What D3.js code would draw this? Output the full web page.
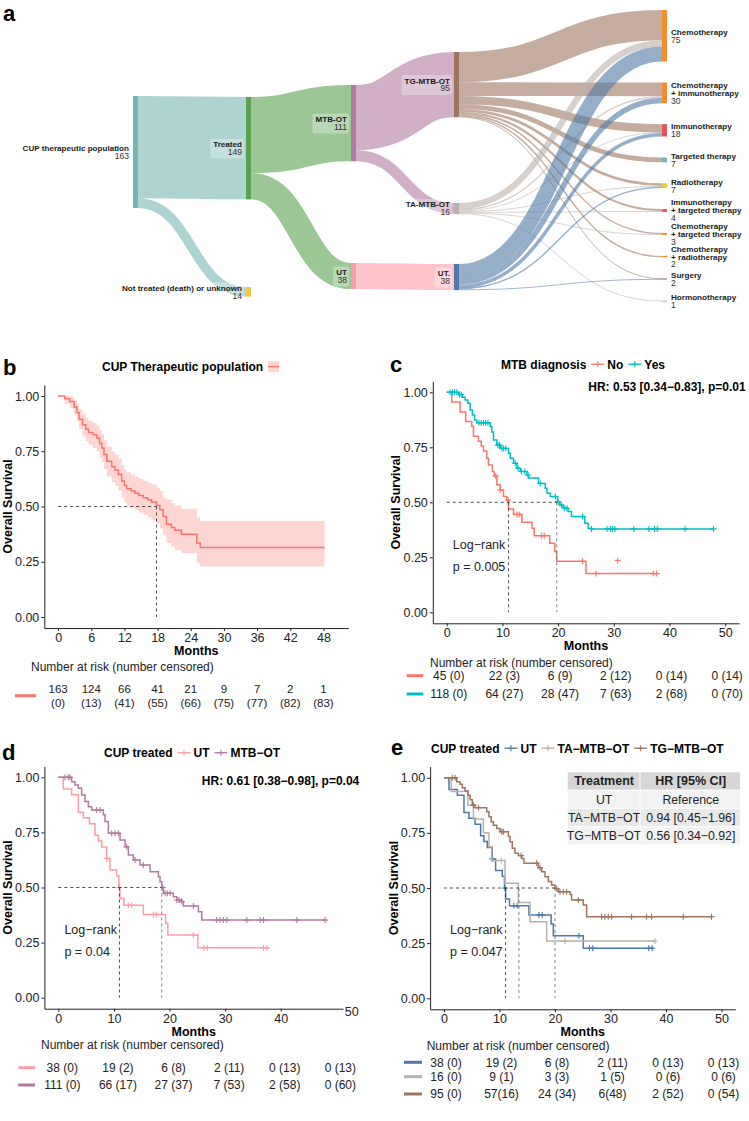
<!DOCTYPE html>
<html>
<head>
<meta charset="utf-8">
<script src="https://cdn.jsdelivr.net/npm/d3@7"></script>
<style>
body { margin: 0; background: #fff; }
svg { display: block; font-family: "Liberation Sans", Arial, Helvetica, sans-serif; }
</style>
</head>
<body>
<svg id="fig" width="749" height="1121"></svg>
<script>
// ---------------- panel a : sankey data ----------------
var sankeyLevels = [
    ["CUP therapeutic population"],
    ["Treated", "Not treated (death) or unknown"],
    ["MTB-OT", "UT"],
    ["TG-MTB-OT", "TA-MTB-OT", "UT."],
    ["Chemotherapy", "Chemotherapy\n+ immunotherapy", "Immunotherapy", "Targeted therapy", "Radiotherapy",
     "Immunotherapy\n+ targeted therapy", "Chemotherapy\n+ targeted therapy", "Chemotherapy\n+ radiotherapy",
     "Surgery", "Hormonotherapy"]
];
var sankeyLinks = [
    ["CUP therapeutic population", "Treated", 149],
    ["CUP therapeutic population", "Not treated (death) or unknown", 14],
    ["Treated", "MTB-OT", 111],
    ["Treated", "UT", 38],
    ["MTB-OT", "TG-MTB-OT", 95],
    ["MTB-OT", "TA-MTB-OT", 16],
    ["UT", "UT.", 38],
    ["TG-MTB-OT", "Chemotherapy", 44],
    ["TG-MTB-OT", "Chemotherapy\n+ immunotherapy", 20],
    ["TG-MTB-OT", "Immunotherapy", 12],
    ["TG-MTB-OT", "Targeted therapy", 7],
    ["TG-MTB-OT", "Radiotherapy", 4],
    ["TG-MTB-OT", "Immunotherapy\n+ targeted therapy", 3],
    ["TG-MTB-OT", "Chemotherapy\n+ targeted therapy", 2],
    ["TG-MTB-OT", "Chemotherapy\n+ radiotherapy", 2],
    ["TG-MTB-OT", "Surgery", 1],
    ["TA-MTB-OT", "Chemotherapy", 9],
    ["TA-MTB-OT", "Chemotherapy\n+ immunotherapy", 2],
    ["TA-MTB-OT", "Immunotherapy", 1],
    ["TA-MTB-OT", "Radiotherapy", 1],
    ["TA-MTB-OT", "Immunotherapy\n+ targeted therapy", 1],
    ["TA-MTB-OT", "Chemotherapy\n+ targeted therapy", 1],
    ["TA-MTB-OT", "Hormonotherapy", 1],
    ["UT.", "Chemotherapy", 22],
    ["UT.", "Chemotherapy\n+ immunotherapy", 8],
    ["UT.", "Immunotherapy", 5],
    ["UT.", "Radiotherapy", 2],
    ["UT.", "Surgery", 1]
];

// ---------------- panel b : whole population ----------------
var bTimes = [0, 1.2, 2.1, 2.9, 3.4, 3.8, 4.4, 5.0, 5.5, 6.3, 7.0, 7.5, 7.9, 8.3, 8.8, 9.7, 10.3, 10.9, 11.5, 12.0,
              12.4, 13.2, 13.9, 14.6, 15.4, 16.2, 16.9, 17.8, 18.4, 19.0, 19.6, 20.5, 21.1, 22.3, 25.1, 25.7];
var bSurv  = [1, 0.988, 0.975, 0.950, 0.925, 0.895, 0.870, 0.850, 0.835, 0.825, 0.810, 0.785, 0.765, 0.735, 0.705,
              0.680, 0.665, 0.645, 0.615, 0.595, 0.580, 0.570, 0.560, 0.550, 0.540, 0.530, 0.520, 0.505, 0.485,
              0.455, 0.420, 0.405, 0.392, 0.375, 0.335, 0.315];
var bUpper = [1, 1, 0.998, 0.980, 0.962, 0.940, 0.918, 0.900, 0.888, 0.878, 0.866, 0.845, 0.828, 0.800, 0.772,
              0.750, 0.735, 0.717, 0.688, 0.670, 0.655, 0.645, 0.636, 0.626, 0.617, 0.608, 0.600, 0.585, 0.570,
              0.540, 0.530, 0.515, 0.505, 0.490, 0.450, 0.434];
var bLower = [1, 0.965, 0.945, 0.915, 0.885, 0.850, 0.820, 0.795, 0.780, 0.765, 0.750, 0.720, 0.700, 0.668, 0.636,
              0.610, 0.593, 0.572, 0.541, 0.520, 0.505, 0.494, 0.483, 0.472, 0.461, 0.450, 0.439, 0.423, 0.400,
              0.370, 0.335, 0.318, 0.303, 0.288, 0.243, 0.228];
var bEnd = 48.2;
var bMedians = [17.8];
var bRiskTimes = [0, 6, 12, 18, 24, 30, 36, 42, 48];
var bAtRisk = [163, 124, 66, 41, 21, 9, 7, 2, 1];
var bCensored = [0, 13, 41, 55, 66, 75, 77, 82, 83];

// ---------------- panel c : MTB diagnosis ----------------
var cNoTimes = [0, 0.9, 2.4, 3.4, 4.5, 4.8, 5.7, 6.2, 6.6, 7.2, 7.5, 8.2, 8.5, 9.0, 9.6, 10.2, 10.8, 11.1, 12.0,
                13.5, 15.3, 15.7, 18.5, 19.4, 19.75, 25.0];
var cNoSurv  = [1, 0.956, 0.911, 0.867, 0.845, 0.800, 0.778, 0.756, 0.733, 0.700, 0.670, 0.640, 0.620, 0.580,
                0.556, 0.526, 0.510, 0.470, 0.445, 0.409, 0.382, 0.348, 0.314, 0.276, 0.232, 0.176];
var cNoEnd = 37.7;
var cNoCensor = [8.8, 9.6, 11.0, 12.6, 13.0, 17.0, 17.5, 24.4, 26.8, 37.1, 37.7];
var cNoExtraMark = [[30.7, 0.236]];
var cYesTimes = [0, 2.1, 2.8, 3.3, 3.8, 4.2, 4.6, 5.0, 5.4, 7.8, 8.1, 8.4, 9.0, 9.6, 11.1, 11.4, 12.0, 12.6, 13.2,
                 14.4, 14.7, 16.5, 17.7, 18.0, 18.6, 19.9, 20.3, 20.9, 21.8, 22.4, 24.8, 25.4, 26.0];
var cYesSurv  = [1, 0.990, 0.977, 0.965, 0.950, 0.920, 0.897, 0.874, 0.862, 0.844, 0.820, 0.783, 0.760, 0.745,
                 0.723, 0.700, 0.677, 0.655, 0.640, 0.624, 0.610, 0.586, 0.564, 0.541, 0.526, 0.503, 0.488, 0.473,
                 0.458, 0.435, 0.405, 0.382, 0.379];
var cYesEnd = 47.9;
var cYesCensor = [0.6, 1.0, 1.4, 1.8, 2.3, 2.6, 5.8, 6.2, 6.6, 7.0, 7.4, 9.2, 9.5, 9.9, 10.2, 10.6, 12.3, 12.8,
                  13.4, 14.0, 14.6, 16.8, 19.5, 20.0, 20.6, 21.2, 21.6, 24.4, 26.0, 28.8, 29.4, 29.8, 30.2, 33.6,
                  36.3, 37.3, 37.8, 42.8, 47.9];
var cMedians = [11.1, 19.75];
var cRiskTimes = [0, 10, 20, 30, 40, 50];
var cNoRisk = ["45 (0)", "22 (3)", "6 (9)", "2 (12)", "0 (14)", "0 (14)"];
var cYesRisk = ["118 (0)", "64 (27)", "28 (47)", "7 (63)", "2 (68)", "0 (70)"];

// ---------------- panels d / e : treated ----------------
var utTimes = [0, 0.9, 2.4, 3.6, 4.5, 5.6, 6.6, 7.2, 7.8, 8.7, 9.3, 10.5, 10.9, 11.1, 11.8, 15.3, 19.3, 19.7, 25.1];
var utSurv  = [1, 0.947, 0.921, 0.842, 0.816, 0.789, 0.737, 0.711, 0.684, 0.632, 0.579, 0.553, 0.500, 0.450,
               0.419, 0.378, 0.337, 0.284, 0.227];
var utEnd = 37.8;
var utCensor = [8.7, 11.0, 12.6, 13.2, 17.1, 17.7, 24.3, 26.2, 26.8, 36.9, 37.5];
var mtbTimes = [0, 2.4, 3.0, 3.6, 4.2, 4.8, 5.4, 6.0, 8.1, 8.4, 9.0, 11.1, 12.0, 12.6, 13.5, 14.7, 16.5, 18.0, 18.3,
                18.6, 18.9, 20.7, 21.3, 22.2, 22.5, 25.2, 25.8];
var mtbSurv  = [1, 0.980, 0.965, 0.950, 0.920, 0.890, 0.867, 0.852, 0.830, 0.800, 0.746, 0.716, 0.685, 0.648,
                0.625, 0.602, 0.572, 0.549, 0.526, 0.500, 0.474, 0.458, 0.443, 0.436, 0.416, 0.390, 0.352];
var mtbEnd = 48.0;
var mtbCensor = [1.2, 1.8, 2.1, 6.9, 7.5, 9.6, 10.2, 10.8, 12.3, 13.8, 15.3, 18.8, 19.2, 19.6, 20.1, 21.3, 21.7,
                 22.2, 24.3, 28.5, 29.1, 29.7, 30.3, 33.9, 36.3, 36.9, 42.9, 48.0];
var dMedians = [11.0, 18.6];
var dRiskTimes = [0, 10, 20, 30, 40, 50];
var utRisk = ["38 (0)", "19 (2)", "6 (8)", "2 (11)", "0 (13)", "0 (13)"];
var mtbRisk = ["111 (0)", "66 (17)", "27 (37)", "7 (53)", "2 (58)", "0 (60)"];

var taTimes = [0, 1.3, 4.3, 5.3, 7.1, 8.1, 8.6, 11.0, 13.4, 15.5, 18.5];
var taSurv  = [1, 0.9375, 0.875, 0.8125, 0.75, 0.6875, 0.625, 0.521, 0.434, 0.347, 0.26];
var taEnd = 38.0;
var taCensor = [10.3, 21.8, 38.0];
var tgTimes = [0, 2.3, 2.9, 3.3, 3.8, 4.3, 4.7, 5.1, 5.6, 7.7, 8.1, 8.5, 8.9, 9.5, 10.1, 11.6, 11.9, 12.3, 12.8,
               13.4, 14.0, 14.4, 17.0, 17.6, 18.2, 18.8, 19.4, 20.0, 20.6, 22.7, 23.0, 25.1, 25.7];
var tgSurv  = [1, 0.982, 0.970, 0.955, 0.940, 0.920, 0.900, 0.876, 0.864, 0.846, 0.823, 0.800, 0.785, 0.770,
               0.755, 0.733, 0.710, 0.680, 0.657, 0.647, 0.634, 0.612, 0.592, 0.574, 0.551, 0.529, 0.514, 0.498,
               0.483, 0.470, 0.446, 0.423, 0.370];
var tgEnd = 48.2;
var tgCensor = [1.5, 2.0, 5.3, 6.2, 10.4, 10.7, 13.9, 16.7, 17.3, 20.3, 20.9, 21.5, 22.1, 24.2, 28.4, 29.0, 29.6,
                30.2, 33.8, 36.5, 37.4, 43.1, 48.2];
var eMedians = [11.1, 13.5, 20.0];
var taRisk = ["16 (0)", "9 (1)", "3 (3)", "1 (5)", "0 (6)", "0 (6)"];
var tgRisk = ["95 (0)", "57(16)", "24 (34)", "6(48)", "2 (52)", "0 (54)"];
var hrHeader = ["Treatment", "HR [95% CI]"];
var hrRows = [["UT", "Reference"], ["TA\u2212MTB\u2212OT", "0.94 [0.45\u22121.96]"], ["TG\u2212MTB\u2212OT", "0.56 [0.34\u22120.92]"]];

// ---------------- colours ----------------
var red = '#f8766d', teal = '#00bfc4';
var cUT = '#ff9da7', cMTB = '#b07aa1', cUTe = '#4e79a7', cTA = '#bab0ac', cTG = '#9c755f';
var nodeColor = {
    "CUP therapeutic population": '#76b7b2', "Treated": '#59a14f', "Not treated (death) or unknown": '#edc948',
    "MTB-OT": '#b07aa1', "UT": '#ff9da7', "TG-MTB-OT": '#9c755f', "TA-MTB-OT": '#bab0ac', "UT.": '#4e79a7',
    "Chemotherapy": '#f28e2b', "Chemotherapy\n+ immunotherapy": '#f28e2b', "Immunotherapy": '#e15759',
    "Targeted therapy": '#76b7b2', "Radiotherapy": '#edc948', "Immunotherapy\n+ targeted therapy": '#e15759',
    "Chemotherapy\n+ targeted therapy": '#f28e2b', "Chemotherapy\n+ radiotherapy": '#f28e2b',
    "Surgery": '#b07aa1', "Hormonotherapy": '#bab0ac'
};

var svg = d3.select('#fig');

function panelLetter(txt, x, y) {
    svg.append('text').attr('x', x).attr('y', y).text(txt)
        .attr('font-size', 22).attr('font-weight', 'bold').attr('fill', '#000');
}

// ================= panel a : sankey =================
var colX = [133, 246, 351, 454, 662];
var colTops = [[96], [97, 287], [85, 263], [52, 203, 264]];
var lastTop = 10, lastGap = 21, nodeW = 5;
var ky = d3.scaleLinear().domain([0, 1]).range([0, 0.687]);

var nodes = {};
sankeyLevels.forEach(function(level, li) {
    level.forEach(function(name, i) {
        nodes[name] = {name: name, level: li, idx: i, sourceLinks: [], targetLinks: []};
    });
});
var links = sankeyLinks.map(function(l) {
    var d = {source: nodes[l[0]], target: nodes[l[1]], value: l[2]};
    d.source.sourceLinks.push(d);
    d.target.targetLinks.push(d);
    return d;
});
var nodeList = Object.keys(nodes).map(function(k) { return nodes[k]; });
nodeList.forEach(function(n) {
    n.value = Math.max(d3.sum(n.sourceLinks, function(l) { return l.value; }),
                       d3.sum(n.targetLinks, function(l) { return l.value; }));
});
sankeyLevels.forEach(function(level, li) {
    var y = lastTop;
    level.forEach(function(name, i) {
        var n = nodes[name];
        n.x0 = colX[li];
        n.x1 = n.x0 + nodeW;
        n.y0 = colTops[li] ? colTops[li][i] : y;
        n.y1 = n.y0 + ky(n.value);
        y = n.y1 + lastGap;
    });
});
nodeList.forEach(function(n) {
    n.sourceLinks.sort(function(a, b) { return a.target.y0 - b.target.y0; });
    n.targetLinks.sort(function(a, b) { return a.source.y0 - b.source.y0; });
    var y0 = n.y0;
    n.sourceLinks.forEach(function(l) { l.width = ky(l.value); l.y0 = y0 + l.width / 2; y0 += l.width; });
    var y1 = n.y0;
    n.targetLinks.forEach(function(l) { l.y1 = y1 + ky(l.value) / 2; y1 += ky(l.value); });
});

var gA = svg.append('g');
var linkGen = d3.linkHorizontal()
    .source(function(d) { return [d.source.x1, d.y0]; })
    .target(function(d) { return [d.target.x0, d.y1]; });
gA.selectAll('path.link').data(links).enter().append('path')
    .attr('class', 'link')
    .attr('d', linkGen)
    .attr('fill', 'none')
    .attr('stroke', function(d) { return nodeColor[d.source.name]; })
    .attr('stroke-opacity', 0.6)
    .attr('stroke-width', function(d) { return Math.max(0.9, d.width); });
gA.selectAll('rect.node').data(nodeList).enter().append('rect')
    .attr('x', function(d) { return d.x0; })
    .attr('y', function(d) { return d.y0; })
    .attr('width', nodeW)
    .attr('height', function(d) { return Math.max(1, d.y1 - d.y0); })
    .attr('fill', function(d) { return nodeColor[d.name]; });

var lh = 7.9;
nodeList.forEach(function(n) {
    var lines = n.name.split('\n');
    var all = lines.concat([String(n.value)]);
    var cy = (n.y0 + n.y1) / 2;
    var right = n.level < 4;
    var tx = right ? n.x0 - 4 : n.x1 + 4;
    var lg = gA.append('g');
    var box = lg.append('rect');
    var t = lg.append('text')
        .attr('text-anchor', right ? 'end' : 'start');
    all.forEach(function(s, i) {
        t.append('tspan')
            .attr('x', tx)
            .attr('y', cy - (all.length - 1) * lh / 2 + i * lh + 2.9)
            .attr('font-weight', i < lines.length ? 'bold' : 'normal')
            .attr('font-size', i < lines.length ? 8.1 : 8.6)
            .attr('fill', i < lines.length ? '#1a1a1a' : '#333')
            .text(s);
    });
    if (right) {
        var bb = t.node().getBBox();
        box.attr('x', bb.x - 3).attr('y', bb.y - 1.5).attr('width', bb.width + 5).attr('height', bb.height + 3)
            .attr('rx', 2).attr('fill', '#fff').attr('fill-opacity', 0.3);
    } else {
        box.remove();
    }
});
panelLetter('a', 3, 21);

// ================= KM helpers =================
function survAt(times, surv, t) {
    var i = d3.bisectRight(times, t) - 1;
    return surv[Math.max(0, i)];
}

function kmPanel(p) {
    var g = svg.append('g');
    var x = d3.scaleLinear().domain(p.xDomain || [-2.5, 52.5]).range(p.xRange);
    var y = d3.scaleLinear().domain([-0.05, 1.05]).range(p.yRange);
    var xAxisY = p.yRange[0];
    var line = d3.line().curve(d3.curveStepAfter)
        .x(function(d) { return x(d[0]); })
        .y(function(d) { return y(d[1]); });

    // axes
    var ya = g.append('g').attr('transform', 'translate(' + p.xRange[0] + ',0)')
        .call(d3.axisLeft(y).tickValues([0, 0.25, 0.5, 0.75, 1]).tickFormat(d3.format('.2f'))
            .tickSize(3).tickSizeOuter(0).tickPadding(2));
    var xa = g.append('g').attr('transform', 'translate(0,' + xAxisY + ')')
        .call(d3.axisBottom(x).tickValues(p.xTicks).tickSize(3).tickSizeOuter(0).tickPadding(2));
    [ya, xa].forEach(function(a) {
        a.attr('font-family', null).attr('font-size', 12.5);
        a.selectAll('text').attr('fill', '#222');
        a.selectAll('line').attr('stroke', '#222');
        a.select('.domain').attr('stroke', '#222').attr('stroke-width', 1);
    });
    g.append('text').attr('x', (p.xRange[0] + p.xRange[1]) / 2).attr('y', xAxisY + 27)
        .attr('text-anchor', 'middle').attr('font-size', 12.5).attr('font-weight', 'bold').text('Months');
    g.append('text')
        .attr('transform', 'translate(' + (p.xRange[0] - 32.5) + ',' + y(0.5) + ') rotate(-90)')
        .attr('text-anchor', 'middle').attr('font-size', 12.5).attr('font-weight', 'bold')
        .text('Overall Survival');

    // confidence band
    if (p.band) {
        var bpts = p.band.times.map(function(t, i) { return [t, p.band.lower[i], p.band.upper[i]]; });
        bpts.push([p.band.end, p.band.lower[p.band.lower.length - 1], p.band.upper[p.band.upper.length - 1]]);
        g.append('path')
            .attr('d', d3.area().curve(d3.curveStepAfter)
                .x(function(d) { return x(d[0]); })
                .y0(function(d) { return y(d[1]); })
                .y1(function(d) { return y(d[2]); })(bpts))
            .attr('fill', p.band.color).attr('fill-opacity', 0.3);
    }

    // curves + censor marks
    p.curves.forEach(function(c) {
        var pts = c.times.map(function(t, i) { return [t, c.surv[i]]; });
        pts.push([c.end, c.surv[c.surv.length - 1]]);
        g.append('path').attr('d', line(pts)).attr('fill', 'none')
            .attr('stroke', c.color).attr('stroke-width', 1.5);
        var marks = (c.censor || []).map(function(t) { return [t, survAt(c.times, c.surv, t)]; })
            .concat(c.extra || []);
        g.selectAll(null).data(marks).enter().append('path')
            .attr('transform', function(d) { return 'translate(' + x(d[0]) + ',' + y(d[1]) + ')'; })
            .attr('d', 'M-3,0H3M0,-3V3')
            .attr('stroke', c.color).attr('stroke-width', 1.1);
    });

    // median lines
    g.append('line')
        .attr('x1', x(0)).attr('x2', x(d3.max(p.medians)))
        .attr('y1', y(0.5)).attr('y2', y(0.5))
        .attr('stroke', '#222').attr('stroke-width', 0.8).attr('stroke-dasharray', '3,3');
    g.selectAll(null).data(p.medians).enter().append('line')
        .attr('x1', function(d) { return x(d); }).attr('x2', function(d) { return x(d); })
        .attr('y1', y(0.5)).attr('y2', y(0))
        .attr('stroke', function(d, i) { return i === 0 ? '#222' : '#666'; })
        .attr('stroke-width', 0.8).attr('stroke-dasharray', '3,3');

    if (p.logrank) {
        g.append('text').attr('x', x(p.logrank.t)).attr('y', y(0.29)).attr('font-size', 12.5)
            .attr('fill', '#222').text('Log\u2212rank');
        g.append('text').attr('x', x(p.logrank.t)).attr('y', y(0.19)).attr('font-size', 12.5)
            .attr('fill', '#222').text(p.logrank.p);
    }
    return {g: g, x: x, y: y};
}

function titleLegend(x0, yb, title, items, bandKey) {
    var g = svg.append('g').attr('font-size', 12).attr('font-weight', 'bold');
    var t = g.append('text').attr('x', x0).attr('y', yb).text(title);
    var cur = x0 + t.node().getComputedTextLength() + 5;
    items.forEach(function(it) {
        var my = yb - 4.3;
        if (bandKey) {
            g.append('rect').attr('x', cur).attr('y', my - 5.5).attr('width', 11).attr('height', 11)
                .attr('fill', it.color).attr('fill-opacity', 0.3);
            g.append('line').attr('x1', cur).attr('x2', cur + 11).attr('y1', my).attr('y2', my)
                .attr('stroke', it.color).attr('stroke-width', 1.3);
            cur += 14;
        } else {
            g.append('line').attr('x1', cur).attr('x2', cur + 13).attr('y1', my).attr('y2', my)
                .attr('stroke', it.color).attr('stroke-width', 1.3);
            g.append('path').attr('transform', 'translate(' + (cur + 6.5) + ',' + my + ')')
                .attr('d', 'M-3,0H3M0,-3V3').attr('stroke', it.color).attr('stroke-width', 1.1);
            cur += 16;
        }
        if (it.label) {
            var lt = g.append('text').attr('x', cur).attr('y', yb).text(it.label);
            cur += lt.node().getComputedTextLength() + 5;
        }
    });
}

function riskTable(x, times, labelX, labelY, rows, shift) {
    var g = svg.append('g').attr('font-size', 12).attr('fill', '#222');
    g.append('text').attr('x', labelX).attr('y', labelY).text('Number at risk (number censored)');
    rows.forEach(function(r) {
        g.append('line').attr('x1', r.keyX[0]).attr('x2', r.keyX[1]).attr('y1', r.cy).attr('y2', r.cy)
            .attr('stroke', r.color).attr('stroke-width', 3);
        g.selectAll(null).data(r.values).enter().append('text')
            .attr('x', function(d, i) { return x(times[i]) + shift; })
            .attr('y', r.cy + 4.2)
            .attr('text-anchor', 'middle')
            .text(function(d) { return d; });
    });
}

// ================= panel b =================
var pb = kmPanel({
    xRange: [44.3, 348.3], yRange: [628.05, 384.95], xTicks: bRiskTimes,
    band: {times: bTimes, lower: bLower, upper: bUpper, end: bEnd, color: red},
    curves: [{times: bTimes, surv: bSurv, end: bEnd, color: red}],
    medians: bMedians
});
titleLegend(102, 371, 'CUP Therapeutic population', [{color: red}], true);
panelLetter('b', 3, 375);
svg.append('text').attr('x', 31).attr('y', 670.7).attr('font-size', 12).attr('fill', '#222')
    .text('Number at risk (number censored)');
svg.append('line').attr('x1', 15).attr('x2', 36).attr('y1', 695.7).attr('y2', 695.7)
    .attr('stroke', red).attr('stroke-width', 3);
svg.append('g').attr('font-size', 11.5).attr('fill', '#222').attr('text-anchor', 'middle')
    .selectAll('text').data(bRiskTimes).enter().append('text')
    .each(function(t, i) {
        d3.select(this).append('tspan').attr('x', pb.x(t)).attr('y', 693).text(bAtRisk[i]);
        d3.select(this).append('tspan').attr('x', pb.x(t)).attr('y', 707).text('(' + bCensored[i] + ')');
    });

// ================= panel c =================
var pc = kmPanel({
    xRange: [432.8, 739.1], yRange: [623.3, 381.3], xTicks: cRiskTimes,
    curves: [
        {times: cNoTimes, surv: cNoSurv, end: cNoEnd, color: red, censor: cNoCensor, extra: cNoExtraMark},
        {times: cYesTimes, surv: cYesSurv, end: cYesEnd, color: teal, censor: cYesCensor}
    ],
    medians: cMedians,
    logrank: {t: 1.1, p: 'p = 0.005'}
});
titleLegend(501, 368.5, 'MTB diagnosis', [{color: red, label: 'No'}, {color: teal, label: 'Yes'}]);
svg.append('text').attr('x', 745.7).attr('y', 391).attr('text-anchor', 'end').attr('font-size', 12)
    .attr('font-weight', 'bold').text('HR: 0.53 [0.34\u22120.83], p=0.01');
panelLetter('c', 390, 371.7);
riskTable(pc.x, cRiskTimes, 430, 666.7, [
    {values: cNoRisk, color: red, cy: 675.7, keyX: [406.7, 423.3]},
    {values: cYesRisk, color: teal, cy: 694, keyX: [406.7, 423.3]}
], 2);

// ================= panel d =================
var pd = kmPanel({
    xRange: [44.4, 343], xDomain: [-2.5, 51.2], yRange: [1008.7, 766.3], xTicks: [0, 10, 20, 30, 40],
    curves: [
        {times: utTimes, surv: utSurv, end: utEnd, color: cUT, censor: utCensor},
        {times: mtbTimes, surv: mtbSurv, end: mtbEnd, color: cMTB, censor: mtbCensor}
    ],
    medians: dMedians,
    logrank: {t: 1.1, p: 'p = 0.04'}
});
svg.append('text').attr('x', 351.7).attr('y', 1016).attr('text-anchor', 'middle').attr('font-size', 12.5)
    .attr('fill', '#222').text('50');
titleLegend(104, 757, 'CUP treated', [{color: cUT, label: 'UT'}, {color: cMTB, label: 'MTB\u2212OT'}]);
svg.append('text').attr('x', 359.3).attr('y', 785).attr('text-anchor', 'end').attr('font-size', 12)
    .attr('font-weight', 'bold').text('HR: 0.61 [0.38\u22120.98], p=0.04');
panelLetter('d', 2, 760);
riskTable(pd.x, dRiskTimes, 41, 1049, [
    {values: utRisk, color: cUT, cy: 1067.7, keyX: [18.3, 35]},
    {values: mtbRisk, color: cMTB, cy: 1085, keyX: [18.3, 35]}
], 4);

// ================= panel e =================
var pe = kmPanel({
    xRange: [430.1, 735.4], yRange: [1009.3, 766.7], xTicks: dRiskTimes,
    curves: [
        {times: utTimes, surv: utSurv, end: utEnd, color: cUTe, censor: utCensor},
        {times: taTimes, surv: taSurv, end: taEnd, color: cTA, censor: taCensor},
        {times: tgTimes, surv: tgSurv, end: tgEnd, color: cTG, censor: tgCensor}
    ],
    medians: eMedians,
    logrank: {t: 1.1, p: 'p = 0.047'}
});
titleLegend(431, 752.5, 'CUP treated', [
    {color: cUTe, label: 'UT'}, {color: cTA, label: 'TA\u2212MTB\u2212OT'}, {color: cTG, label: 'TG\u2212MTB\u2212OT'}
]);
panelLetter('e', 391, 755);
riskTable(pe.x, dRiskTimes, 426.7, 1050, [
    {values: utRisk, color: cUTe, cy: 1062.3, keyX: [404, 422]},
    {values: taRisk, color: cTA, cy: 1076.7, keyX: [404, 422]},
    {values: tgRisk, color: cTG, cy: 1094, keyX: [404, 422]}
], 2);

// HR table (panel e)
var tabX = [567.7, 640.5, 741];
var tabTop = 772.3, rowH = 17.3, rowGap = 1;
var rowFill = ['#f2f2f2', '#e9e9e9', '#f2f2f2'];
var gt = svg.append('g').attr('fill', '#222');
[hrHeader].concat(hrRows).forEach(function(row, r) {
    var top = tabTop + r * (rowH + rowGap);
    row.forEach(function(cell, c) {
        gt.append('rect').attr('x', tabX[c]).attr('y', top)
            .attr('width', tabX[c + 1] - tabX[c] - 1).attr('height', rowH)
            .attr('fill', r === 0 ? '#d6d6d6' : rowFill[r - 1]);
        gt.append('text').attr('x', (tabX[c] + tabX[c + 1]) / 2).attr('y', top + rowH / 2 + 4.3)
            .attr('text-anchor', 'middle')
            .attr('font-weight', r === 0 ? 'bold' : 'normal')
            .attr('font-size', r === 0 ? 12.5 : 12.3)
            .text(cell);
    });
});
</script>
</body>
</html>
